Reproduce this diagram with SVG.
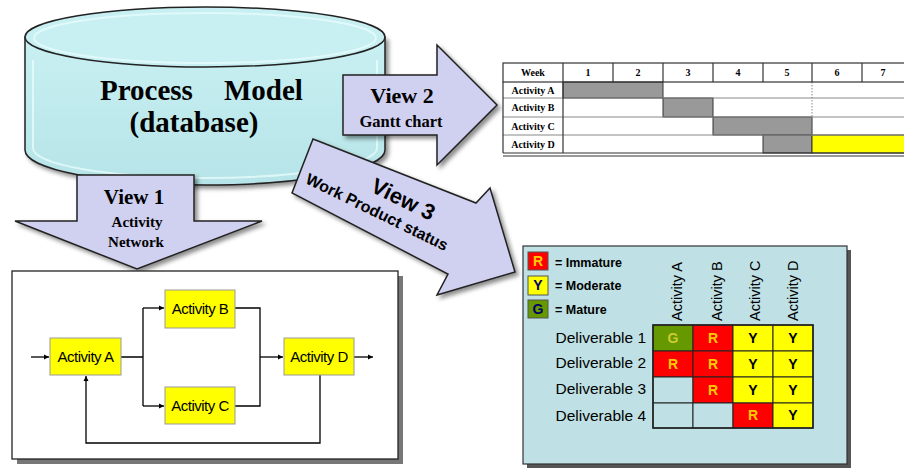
<svg xmlns="http://www.w3.org/2000/svg" width="904" height="468" viewBox="0 0 904 468">
<defs>
<filter id="sh" x="-10%" y="-10%" width="130%" height="130%">
<feDropShadow dx="3" dy="3" stdDeviation="2" flood-color="#000" flood-opacity="0.45"/>
</filter>
<linearGradient id="cyl" x1="0" y1="0" x2="0" y2="1">
<stop offset="0" stop-color="#c9f0f2"/>
<stop offset="1" stop-color="#b6e4e8"/>
</linearGradient>
<marker id="ah" markerWidth="6" markerHeight="6" refX="5" refY="3" orient="auto" markerUnits="userSpaceOnUse">
<path d="M0,0.5 L5,3 L0,5.5 Z" fill="#000"/>
</marker>
<style>
.arrow{fill:#d0d0f0;stroke:#222;stroke-width:1.5;filter:url(#sh)}
.ser{font-family:"Liberation Serif","Times New Roman",serif;font-weight:bold;fill:#000}
.sans{font-family:"Liberation Sans",Arial,sans-serif;fill:#000}
.act{fill:#ffff00;stroke:#999;stroke-width:1}
.actt{font-family:"Liberation Sans",Arial,sans-serif;font-size:15px;text-anchor:middle;fill:#000;letter-spacing:-0.5px}
.con{fill:none;stroke:#000;stroke-width:1.3}
.gt{font-family:"Liberation Serif","Times New Roman",serif;font-weight:bold;font-size:10px;fill:#000}
.cell{stroke:#222;stroke-width:1}
.cl{font-family:"Liberation Sans",Arial,sans-serif;font-weight:bold;font-size:14px;text-anchor:middle}
.dl{font-family:"Liberation Sans",Arial,sans-serif;font-size:15.5px;text-anchor:end;fill:#000}
.ch{font-family:"Liberation Sans",Arial,sans-serif;font-size:14.5px;fill:#000}
</style>
</defs>
<rect width="904" height="468" fill="#fff"/>

<!-- Process Model cylinder -->
<g id="process-model">
<path d="M25,37 V150 A180,35 0 0 0 385,150 V37 Z" fill="url(#cyl)" stroke="#222" stroke-width="1.5" filter="url(#sh)"/>
<path d="M33,60 V148 A172,30 0 0 0 377,148 V60" fill="none" stroke="#e6fbfb" stroke-width="2" opacity="0.8"/>
<ellipse cx="205" cy="37" rx="180" ry="30" fill="#c8f0f2" stroke="#222" stroke-width="1.5"/>
<ellipse cx="205" cy="38" rx="171" ry="25" fill="none" stroke="#e6fbfb" stroke-width="2" opacity="0.8"/>
<text class="ser" font-size="29"><tspan x="100" y="100">Process</tspan><tspan x="224" y="100">Model</tspan></text>
<text class="ser" font-size="29" x="194" y="132" text-anchor="middle">(database)</text>
</g>

<!-- View 2 arrow -->
<g id="view2">
<polygon class="arrow" points="343,75 437,75 437,45 497,105 437,165 437,135 343,135"/>
<text class="ser" font-size="22" x="402" y="103" text-anchor="middle">View 2</text>
<text class="ser" font-size="16.5" x="401" y="127" text-anchor="middle">Gantt chart</text>
</g>

<!-- View 1 arrow -->
<g id="view1">
<polygon class="arrow" points="77,175 194,175 194,221 262,221 137,269 15,221 77,221"/>
<text class="ser" font-size="21" x="134" y="204" text-anchor="middle">View 1</text>
<text class="ser" font-size="15" x="137" y="227" text-anchor="middle">Activity</text>
<text class="ser" font-size="15" x="136" y="247" text-anchor="middle">Network</text>
</g>

<!-- View 3 arrow -->
<g id="view3">
<polygon class="arrow" points="313,139 476,203 490,188 515,272 437,295 448,274 292,193"/>
<g transform="translate(400,206) rotate(26)">
<text class="sans" font-weight="bold" font-size="22" x="0" y="0" text-anchor="middle">View 3</text>
<text class="sans" font-weight="bold" font-size="16" x="-18" y="21" text-anchor="middle">Work Product status</text>
</g>
</g>

<!-- Gantt chart -->
<g id="gantt">
<rect x="503" y="155" width="401" height="2" fill="#999"/>
<rect x="503" y="63" width="401" height="90" fill="#fff"/>
<rect x="563" y="82" width="100" height="16" fill="#999" stroke="#333"/>
<rect x="663" y="98" width="50" height="19" fill="#999" stroke="#333"/>
<rect x="713" y="117" width="99" height="18" fill="#999" stroke="#333"/>
<rect x="763" y="135" width="49" height="18" fill="#999" stroke="#333"/>
<rect x="812" y="135" width="93" height="18" fill="#ffff00" stroke="#333"/>
<g stroke="#888" stroke-width="1">
<line x1="503" y1="98" x2="904" y2="98"/>
<line x1="503" y1="117" x2="904" y2="117"/>
<line x1="503" y1="135" x2="904" y2="135"/>
</g>
<line x1="812" y1="82" x2="812" y2="135" stroke="#888" stroke-dasharray="1.5,1.5"/>
<g stroke="#333" stroke-width="1.2" fill="none">
<rect x="503" y="63" width="402" height="19"/>
<line x1="503" y1="82" x2="503" y2="153"/>
<line x1="563" y1="63" x2="563" y2="153"/>
<line x1="503" y1="153" x2="904" y2="153"/>
<line x1="613" y1="63" x2="613" y2="82"/>
<line x1="663" y1="63" x2="663" y2="82"/>
<line x1="713" y1="63" x2="713" y2="82"/>
<line x1="763" y1="63" x2="763" y2="82"/>
<line x1="812" y1="63" x2="812" y2="82"/>
<line x1="862" y1="63" x2="862" y2="82"/>
</g>
<g class="gt" text-anchor="middle">
<text x="533" y="76">Week</text>
<text x="588" y="76">1</text>
<text x="638" y="76">2</text>
<text x="688" y="76">3</text>
<text x="738" y="76">4</text>
<text x="787" y="76">5</text>
<text x="837" y="76">6</text>
<text x="883" y="76">7</text>
<text x="533" y="94">Activity A</text>
<text x="533" y="111">Activity B</text>
<text x="533" y="130">Activity C</text>
<text x="533" y="148">Activity D</text>
</g>
</g>

<!-- Activity network -->
<g id="activity-network">
<rect x="17" y="276" width="386" height="188" fill="#777"/>
<rect x="12" y="271" width="386" height="188" fill="#fff" stroke="#222" stroke-width="1.3"/>
</g>
<g id="connectors">
<path class="con" d="M31,357 H49" marker-end="url(#ah)"/>
<path class="con" d="M121,357 H143 M143,308 V406"/>
<path class="con" d="M143,308 H164" marker-end="url(#ah)"/>
<path class="con" d="M143,406 H164" marker-end="url(#ah)"/>
<path class="con" d="M235,308 H260 V406 H235"/>
<path class="con" d="M260,357 H283" marker-end="url(#ah)"/>
<path class="con" d="M354,357 H373" marker-end="url(#ah)"/>
<path class="con" d="M320,375 V443 H86 V376" marker-end="url(#ah)"/>
</g>
<g id="activity-a"><rect class="act" x="50" y="338" width="71" height="37"/><text class="actt" x="85.5" y="362">Activity A</text></g>
<g id="activity-b"><rect class="act" x="165" y="290" width="70" height="38"/><text class="actt" x="200" y="314">Activity B</text></g>
<g id="activity-c"><rect class="act" x="165" y="387" width="70" height="37"/><text class="actt" x="200" y="411">Activity C</text></g>
<g id="activity-d"><rect class="act" x="284" y="338" width="70" height="37"/><text class="actt" x="319" y="362">Activity D</text></g>

<!-- Work product status -->
<g id="work-product-status">
<rect x="527" y="250" width="324" height="218" fill="#555"/>
<rect x="523" y="246" width="324" height="218" fill="#bfe0e4" stroke="#333" stroke-width="1.2"/>
<rect x="528" y="252" width="20" height="18" fill="#ff0000" stroke="#555"/>
<rect x="528" y="276" width="20" height="19" fill="#ffff00" stroke="#555"/>
<rect x="528" y="300" width="20" height="18" fill="#669900" stroke="#555"/>
<text class="cl" x="538" y="266" fill="#ffcc00">R</text>
<text class="cl" x="538" y="290" fill="#000066">Y</text>
<text class="cl" x="538" y="314" fill="#000066">G</text>
<g class="sans" font-weight="bold" font-size="12.5">
<text x="555" y="267">= Immature</text>
<text x="555" y="290">= Moderate</text>
<text x="555" y="314">= Mature</text>
</g>
<text class="ch" transform="translate(682,321) rotate(-90)">Activity A</text>
<text class="ch" transform="translate(722,321) rotate(-90)">Activity B</text>
<text class="ch" transform="translate(760,321) rotate(-90)">Activity C</text>
<text class="ch" transform="translate(798,321) rotate(-90)">Activity D</text>
<text class="dl" x="646" y="343">Deliverable  1</text>
<text class="dl" x="646" y="368">Deliverable  2</text>
<text class="dl" x="646" y="394">Deliverable  3</text>
<text class="dl" x="646" y="421">Deliverable  4</text>
<rect class="cell" x="653" y="325" width="40" height="26" fill="#669900"/>
<rect class="cell" x="693" y="325" width="40" height="26" fill="#ff0000"/>
<rect class="cell" x="733" y="325" width="40" height="26" fill="#ffff00"/>
<rect class="cell" x="773" y="325" width="40" height="26" fill="#ffff00"/>
<rect class="cell" x="653" y="351" width="40" height="26" fill="#ff0000"/>
<rect class="cell" x="693" y="351" width="40" height="26" fill="#ff0000"/>
<rect class="cell" x="733" y="351" width="40" height="26" fill="#ffff00"/>
<rect class="cell" x="773" y="351" width="40" height="26" fill="#ffff00"/>
<rect class="cell" x="653" y="377" width="40" height="26" fill="#bfe0e4"/>
<rect class="cell" x="693" y="377" width="40" height="26" fill="#ff0000"/>
<rect class="cell" x="733" y="377" width="40" height="26" fill="#ffff00"/>
<rect class="cell" x="773" y="377" width="40" height="26" fill="#ffff00"/>
<rect class="cell" x="653" y="403" width="40" height="25" fill="#bfe0e4"/>
<rect class="cell" x="693" y="403" width="40" height="25" fill="#bfe0e4"/>
<rect class="cell" x="733" y="403" width="40" height="25" fill="#ff0000"/>
<rect class="cell" x="773" y="403" width="40" height="25" fill="#ffff00"/>
<rect x="653" y="325" width="160" height="103" fill="none" stroke="#222" stroke-width="1.6"/>
<text class="cl" x="673" y="343" fill="#cccc33">G</text>
<text class="cl" x="713" y="343" fill="#ffcc00">R</text>
<text class="cl" x="753" y="343" fill="#000">Y</text>
<text class="cl" x="793" y="343" fill="#000">Y</text>
<text class="cl" x="673" y="369" fill="#ffcc00">R</text>
<text class="cl" x="713" y="369" fill="#ffcc00">R</text>
<text class="cl" x="753" y="369" fill="#000">Y</text>
<text class="cl" x="793" y="369" fill="#000">Y</text>
<text class="cl" x="713" y="395" fill="#ffcc00">R</text>
<text class="cl" x="753" y="395" fill="#000">Y</text>
<text class="cl" x="793" y="395" fill="#000">Y</text>
<text class="cl" x="753" y="420" fill="#ffcc00">R</text>
<text class="cl" x="793" y="420" fill="#000">Y</text>
</g>
</svg>
